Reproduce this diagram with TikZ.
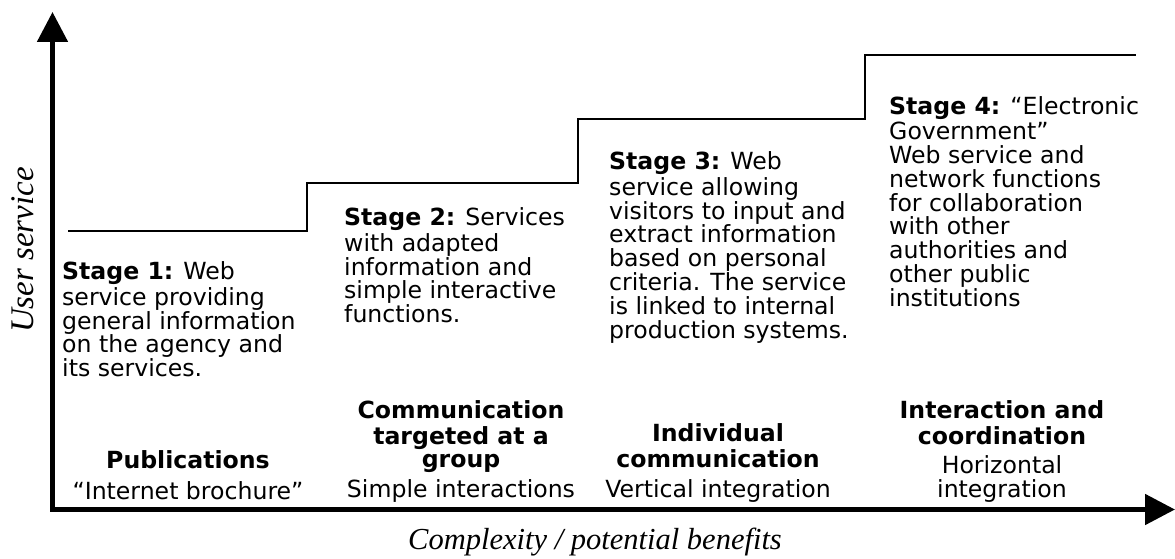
\documentclass[tikz,border=0pt]{standalone}
\usepackage{fontspec}
\setmainfont{DejaVu Sans}
\newfontfamily\axisfont{Liberation Serif}
\usetikzlibrary{arrows.meta}
\begin{document}
\begin{tikzpicture}[x=1pt,y=-1pt,
  axis/.style={line width=5pt, line join=miter,
    {Triangle[length=30pt,width=30pt]}-{Triangle[length=30pt,width=30pt]}},
  stair/.style={line width=2pt, line join=miter},
  stagetext/.style={anchor=north west, inner sep=0pt, align=left,
    font=\fontsize{23.6}{23.8}\selectfont},
  collabel/.style={anchor=north, inner sep=0pt, align=center,
    font=\fontsize{23.6}{23.5}\selectfont},
  axislabel/.style={inner sep=0pt, font=\axisfont\itshape}]
\useasboundingbox (0,0) rectangle (1175,559);
% axes
\coordinate (ytip) at (52.5,12);
\coordinate (origin) at (52.5,509.5);
\coordinate (xtip) at (1175,509.5);
\draw[axis] (ytip) -- (origin) -- (xtip);
% stairs
\coordinate (s0) at (68,231);
\coordinate (s1) at (307,231);
\coordinate (s2) at (307,183);
\coordinate (s3) at (578,183);
\coordinate (s4) at (578,119);
\coordinate (s5) at (865,119);
\coordinate (s6) at (865,55);
\coordinate (s7) at (1136,55);
\draw[stair] (s0) -- (s1) -- (s2) -- (s3) -- (s4) -- (s5) -- (s6) -- (s7);
% stage texts
\node[stagetext] (st1) at (62,261) {\strut\textbf{Stage 1:} Web\\service providing\\general information\\on the agency and\\its services.};
\node[stagetext] (st2) at (344,207) {\strut\textbf{Stage 2:} Services\\with adapted\\information and\\simple interactive\\functions.};
\node[stagetext] (st3) at (609,151) {\strut\textbf{Stage 3:} Web\\service allowing\\visitors to input and\\extract information\\based on personal\\criteria. The service\\is linked to internal\\production systems.};
\node[stagetext] (st4) at (889,96) {\strut\textbf{Stage 4:} “Electronic\\Government”\\Web service and\\network functions\\for collaboration\\with other\\authorities and\\other public\\institutions};
% column labels
\node[collabel] (c1) at (188,450) {\strut\textbf{Publications}\\[5pt]“Internet brochure”};
\node[collabel] (c2) at (461,400) {\strut\textbf{Communication}\\\textbf{targeted at a}\\\textbf{group}\\[6pt]Simple interactions};
\node[collabel] (c3) at (718,423.5) {\strut\textbf{Individual}\\\textbf{communication}\\[6pt]Vertical integration};
\node[collabel] (c4) at (1002,400) {\strut\textbf{Interaction and}\\\textbf{coordination}\\[6pt]Horizontal\\integration};
% axis labels
\node[axislabel, rotate=90, font=\axisfont\itshape\fontsize{33}{38}\selectfont] (ylab) at (23,250) {User service};
\node[axislabel, font=\axisfont\itshape\fontsize{30.5}{36}\selectfont] (xlab) at (595,542) {Complexity / potential benefits};
\end{tikzpicture}
\end{document}
